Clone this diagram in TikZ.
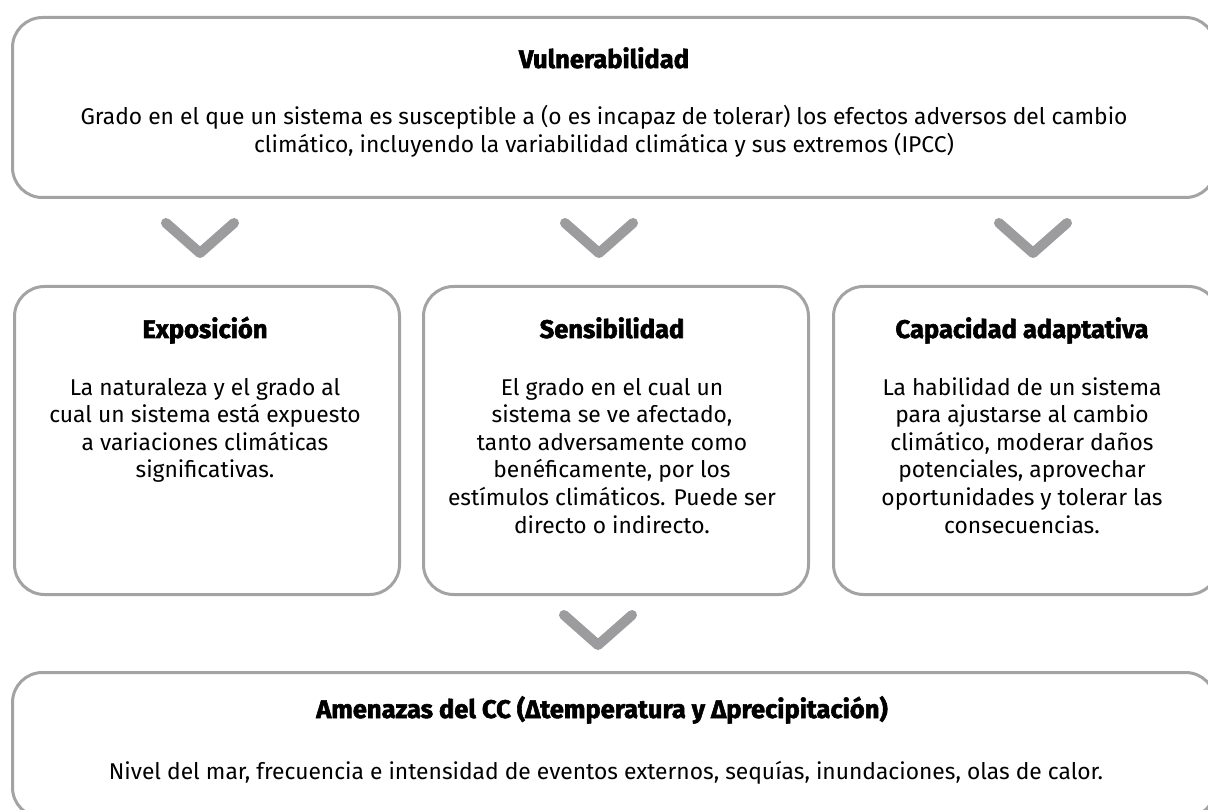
\documentclass[tikz,border=0pt]{standalone}
\usepackage{fontspec}
\setmainfont{Fira Sans}
\newfontfamily\headfont{Fira Sans}[BoldFeatures={FakeBold=2.2}]
\usepackage{xcolor}
\usetikzlibrary{positioning}

\definecolor{boxgray}{HTML}{A3A3A3}
\definecolor{chevgray}{HTML}{9C9C9E}

\tikzset{
  panel/.style={draw=boxgray, line width=3pt, rounded corners=30pt, inner sep=0pt, anchor=north west},
  paneltitle/.style={font=\headfont\bfseries\fontsize{25.5}{28}\selectfont, inner sep=0pt, anchor=base},
  paneltext/.style={font=\fontsize{22.8}{27.6}\selectfont, align=center, inner sep=0pt, anchor=base},
  chevron/.style={draw=chevgray, line width=10pt, line cap=round, line join=round}
}

\begin{document}
\begin{tikzpicture}[x=1pt, y=-1pt]
    \useasboundingbox (0,0) rectangle (1208,810);

    % Top panel: vulnerability
    \node[panel, minimum width=1203pt, minimum height=180pt] (vul) at (11,16) {};
    \node[paneltitle] (vultitle) at (604,68) {Vulnerabilidad};
    % (base of a multi-line text = its last line)
    \node[paneltext] (vultext) at (604,152.6)
        {Grado en el que un sistema es susceptible a (o es incapaz de tolerar) los efectos adversos del cambio\\
         climático, incluyendo la variabilidad climática y sus extremos (IPCC)};

    % Chevrons below the top panel
    \foreach \cx in {200, 599, 1033}
        \draw[chevron] (\cx-34,223) -- (\cx,253) -- (\cx+34,223);

    % Middle row: three components
    \node[panel, minimum width=385pt, minimum height=308pt] (expo) at (13,285) {};
    \node[panel, minimum width=385pt, minimum height=308pt] (sens) at (422,285) {};
    \node[panel, minimum width=385pt, minimum height=308pt] (capa) at (832,285) {};

    \node[paneltitle] (expotitle) at (205,338) {Exposición};
    \node[paneltitle] (senstitle) at (612,338) {Sensibilidad};
    \node[paneltitle] (capatitle) at (1022,338) {Capacidad adaptativa};

    \node[paneltext] (expotext) at (205,477.8)
        {La naturaleza y el grado al\\ cual un sistema está expuesto\\ a variaciones climáticas\\ significativas.};
    \node[paneltext] (senstext) at (612,533)
        {El grado en el cual un\\ sistema se ve afectado,\\ tanto adversamente como\\ benéficamente, por los\\ estímulos climáticos. Puede ser\\ directo o indirecto.};
    \node[paneltext] (capatext) at (1022,533)
        {La habilidad de un sistema\\ para ajustarse al cambio\\ climático, moderar daños\\ potenciales, aprovechar\\ oportunidades y tolerar las\\ consecuencias.};

    % Chevron below the middle row
    \draw[chevron] (564,615) -- (598,645) -- (632,615);

    % Bottom panel: climate change threats
    \node[panel, minimum width=1203pt, minimum height=145pt] (amen) at (11,671) {};
    \node[paneltitle] (amentitle) at (602,718) {Amenazas del CC (Δtemperatura y Δprecipitación)};
    \node[paneltext] (amentext) at (606,779)
        {Nivel del mar, frecuencia e intensidad de eventos externos, sequías, inundaciones, olas de calor.};

\end{tikzpicture}
\end{document}
